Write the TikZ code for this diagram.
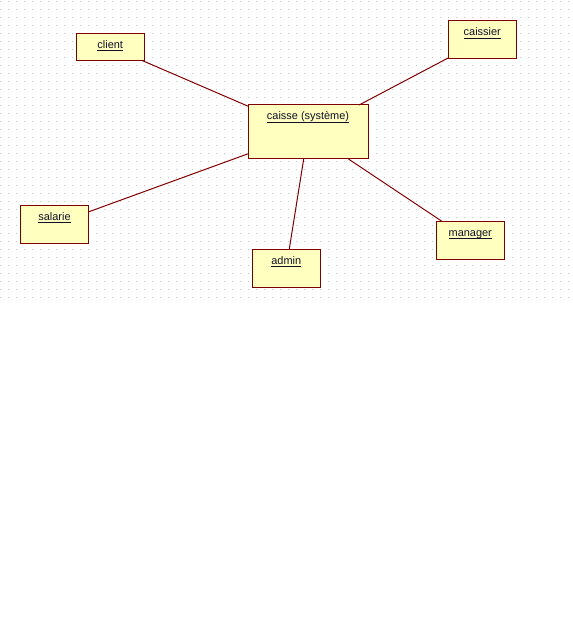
\documentclass[tikz,border=0pt]{standalone}
\usepackage{fontspec}
\setmainfont{Liberation Sans}
\definecolor{boxfill}{RGB}{255,255,192}
\definecolor{boxline}{RGB}{128,0,0}
\definecolor{griddot}{RGB}{196,196,196}
\definecolor{labeltext}{RGB}{16,16,40}
\newcommand\ulabel[1]{\underline{\smash{#1}}}
\begin{document}
\begin{tikzpicture}[x=0.75pt,y=-0.75pt,
  actor/.style={draw=boxline,fill=boxfill,line width=0.75pt,rectangle,
    inner sep=0pt,outer sep=0pt,minimum width=51pt,minimum height=28.5pt},
  wide/.style={minimum width=90pt,minimum height=40.5pt},
  flat/.style={minimum height=20.25pt},
  lbl/.style={anchor=base,inner sep=0pt,text=labeltext,
    font=\fontsize{8.2}{10}\selectfont},
  assoc/.style={draw=boxline,line width=0.75pt}]
  % page frame
  \useasboundingbox (0,0) rectangle (572,620);
  \fill[white] (0,0) rectangle (572,620);
  % dotted drawing grid
  \foreach \gx in {0,8,...,568}
    \foreach \gy in {1,9,...,297}
      \fill[griddot] (\gx,\gy) rectangle ++(1,1);
  % actors and the system
  \node[actor,wide] (caisse) at (308,132) {};
  \node[actor,flat] (client) at (110.25,46.75) {};
  \node[actor] (caissier) at (482.25,40) {};
  \node[actor] (salarie) at (54.5,224.25) {};
  \node[actor] (admin) at (286.25,268) {};
  \node[actor] (manager) at (470.25,240.25) {};
  % names
  \node[lbl] (caisse-t) at ([yshift=-11.25pt]caisse.north) {\ulabel{caisse (système)}};
  \node[lbl] (client-t) at ([yshift=-11.25pt]client.north) {\ulabel{client}};
  \node[lbl] (caissier-t) at ([yshift=-11.25pt]caissier.north) {\ulabel{caissier}};
  \node[lbl] (salarie-t) at ([yshift=-11.25pt]salarie.north) {\ulabel{salarie}};
  \node[lbl] (admin-t) at ([yshift=-11.25pt]admin.north) {\ulabel{admin}};
  \node[lbl] (manager-t) at ([yshift=-11.25pt]manager.north) {\ulabel{manager}};
  % associations
  \draw[assoc] (client) -- (caisse);
  \draw[assoc] (caissier) -- (caisse);
  \draw[assoc] (salarie) -- (caisse);
  \draw[assoc] (admin) -- (caisse);
  \draw[assoc] (manager) -- (caisse);
\end{tikzpicture}
\end{document}
